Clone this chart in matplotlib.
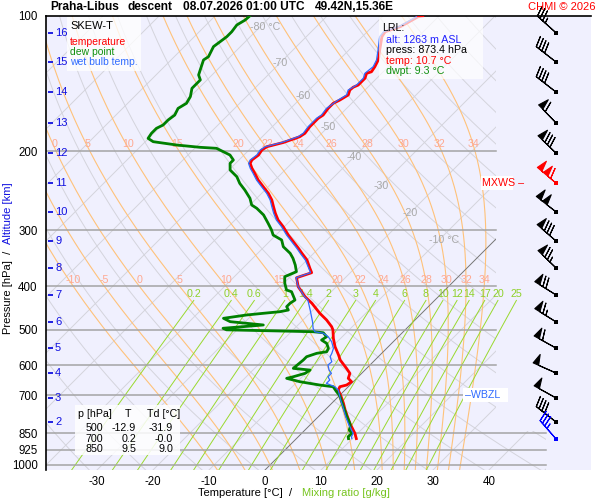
import numpy as np
import matplotlib
matplotlib.use("Agg")
import matplotlib.pyplot as plt
import matplotlib.transforms as mtransforms
from matplotlib.patches import Rectangle, Polygon

plt.rcParams['font.family'] = ['Liberation Sans', 'DejaVu Sans']
plt.rcParams['font.size'] = 8
plt.rcParams['axes.unicode_minus'] = False

# ------------------------------------------------------------------ data
title_parts = ["Praha-Libus", "descent", "08.07.2026 01:00 UTC", "49.42N,15.36E"]
title_x = [50, 128, 183, 315]

pressure_ticks = [100, 200, 300, 400, 500, 600, 700, 850, 925, 1000]
temp_ticks = [-30, -20, -10, 0, 10, 20, 30, 40]

# temperature profile (hPa, degC)
temp_p = [873.4, 850, 810.4, 787.1, 754.3, 728.8, 710.4, 700, 680.8, 669.4,
          663.6, 652.5, 641.2, 625.0, 609.2, 583.8, 568.9, 545.3, 522.3, 500,
          491.9, 475.3, 459.3, 436.3, 421.8, 400.8, 382.7, 373.0, 364.7, 349.5,
          337.7, 329.2, 318.2, 307.5, 294.6, 284.7, 275.0, 265.9, 256.9, 248.3,
          240.0, 231.9, 224.1, 218.4, 212.9, 209.3, 204.0, 198.8, 195.5, 191.3,
          185.7, 182.5, 176.4, 169.0, 166.2, 160.6, 156.5, 153.9, 149.9, 146.2,
          144.1, 142.5, 137.6, 134.2, 133.1, 129.7, 125.3, 119.1, 111.2, 108.4,
          105.6, 103.8, 100.4, 100]
temp_T = [10.7, 9.5, 7.0, 5.6, 3.6, 2.1, 0.9, 0.2, -1.2, -1.5,
          -0.6, -0.3, -1.5, -2.1, -3.6, -6.2, -7.4, -9.5, -11.3, -12.9,
          -13.7, -15.8, -18.2, -21.4, -23.8, -26.8, -28.7, -26.9, -28.0, -30.0,
          -32.1, -33.6, -35.7, -37.8, -40.2, -42.3, -44.0, -45.5, -47.0, -48.8,
          -50.9, -53.0, -54.8, -56.2, -57.4, -57.7, -57.4, -57.7, -57.4, -55.2,
          -53.3, -53.0, -53.3, -53.3, -53.0, -53.3, -53.3, -52.7, -52.1, -52.7,
          -52.6, -52.1, -52.1, -52.7, -52.1, -52.4, -53.0, -54.5, -56.5, -56.8,
          -55.0, -54.5, -53.6, -52.9]

# dew point profile
dew_p = [873.4, 864.9, 850, 835.7, 821.7, 807.5, 780.7, 741.6, 710.4, 700,
         686.7, 669.4, 663.6, 652.5, 641.2, 636.0, 625.0, 614.6, 609.2, 583.8,
         573.9, 564.0, 559.4, 549.8, 535.9, 526.9, 518.0, 507.5, 504.9, 503.0,
         500, 496.0, 491.9, 487.7, 483.5, 479.5, 471.3, 463.4, 459.4, 455.6,
         451.7, 444.0, 436.3, 429.1, 411.2, 407.6, 393.9, 380.7, 371.1, 358.6,
         346.5, 337.7, 326.5, 315.4, 307.5, 299.6, 289.5, 277.4, 268.1, 263.6,
         254.7, 244.1, 235.9, 228.0, 220.3, 212.9, 209.3, 204.0, 197.1, 196.1,
         193.8, 190.5, 187.3, 182.5, 177.9, 174.9, 170.5, 166.2, 160.6, 156.5,
         151.2, 144.9, 142.5, 138.8, 135.3, 131.9, 125.3, 123.2, 117.0, 114.1,
         111.2, 108.4, 104.7, 102.1, 100]
dew_T = [9.3, 8.9, 9.0, 7.9, 7.5, 6.8, 5.1, 2.7, 0.7, 0.0,
         -1.2, -2.7, -5.4, -9.5, -12.5, -11.6, -10.1, -9.8, -13.1, -12.8,
         -12.8, -11.6, -10.1, -10.4, -11.6, -13.1, -12.8, -14.1, -16.1, -22.1,
         -31.9, -32.8, -29.5, -26.2, -29.5, -32.7, -34.5, -31.0, -28.3, -25.6,
         -24.4, -25.3, -25.3, -25.0, -27.1, -28.3, -29.8, -31.0, -29.8, -31.2,
         -32.8, -34.2, -36.6, -38.1, -40.5, -41.7, -43.5, -45.8, -48.2, -49.7,
         -51.2, -53.6, -55.7, -57.4, -59.8, -61.0, -61.0, -62.5, -66.1, -69.2,
         -73.8, -78.6, -80.1, -80.4, -80.4, -79.8, -79.8, -79.5, -80.1, -79.5,
         -80.0, -81.2, -81.2, -81.2, -82.4, -83.0, -84.2, -83.9, -84.8, -84.5,
         -84.2, -84.2, -84.5, -83.9, -83.8]

# wet bulb temperature profile
wb_p = [873.4, 864.9, 850, 810.4, 780.7, 741.6, 716.6, 700, 680.8, 669.4,
        657.9, 646.8, 636.0, 625.0, 614.6, 598.9, 588.9, 573.9, 564.0, 549.8,
        531.5, 518.0, 509.0, 504.9, 496.2, 479.5, 451.7, 429.1, 421.8, 400.8,
        382.7, 373.0, 364.7, 349.5, 337.7, 329.2, 318.2, 307.5, 294.6, 284.7,
        275.0, 265.9, 256.9, 248.3, 240.0, 231.9, 224.1, 218.4, 212.9, 209.3,
        204.0, 198.8, 195.5, 191.3, 185.7, 182.5, 176.4, 169.0, 166.2, 160.6,
        153.9, 149.9, 146.2, 142.5, 137.6, 134.2, 129.7, 125.3, 119.1, 111.2,
        108.4, 105.6, 103.8, 100.4]
wb_T = [9.9, 9.5, 9.2, 6.7, 4.9, 2.6, 1.0, 0.0, -1.2, -2.4,
        -4.5, -4.5, -5.4, -5.4, -6.4, -7.5, -7.4, -8.6, -8.9, -9.5,
        -11.0, -12.5, -14.0, -15.8, -16.7, -18.0, -20.5, -22.7, -23.9, -26.8,
        -28.8, -27.1, -28.2, -30.3, -32.4, -33.9, -36.0, -38.1, -40.5, -42.6,
        -44.3, -45.8, -47.3, -49.1, -51.2, -53.3, -55.1, -56.5, -57.7, -58.0,
        -57.7, -58.0, -57.7, -55.5, -53.6, -53.3, -53.6, -53.6, -53.3, -53.6,
        -53.0, -52.4, -53.0, -52.4, -52.4, -53.0, -52.7, -53.3, -54.8, -56.9,
        -57.1, -55.3, -54.8, -53.9]

# altitude scale (km -> hPa)
alt_km = [2, 3, 4, 5, 6, 7, 8, 9, 10, 11, 12, 13, 14, 15, 16]
alt_p = [802, 709, 624, 549, 480, 418, 364, 317, 273, 235.5, 202, 173, 147.7, 126.6, 109]

# winds at the altitude levels + lowest reported level
wind_p = alt_p + [873.4]
wind_dir = [308, 299, 294, 299, 302, 302, 314, 311, 308, 310, 314, 316, 308, 308, 312, 319]
wind_spd = [40, 50, 50, 60, 65, 70, 75, 80, 100, 110, 80, 60, 40, 40, 35, 35]
wind_col = ['black'] * 9 + ['red'] + ['black'] * 5 + ['blue']

# thermodynamic reference lines
mix_ratios = [0.2, 0.4, 0.6, 1, 1.4, 2, 3, 4, 6, 8, 10, 12, 14, 17, 20, 25]
mix_labels = ['0.2', '0.4', '0.6', '1', '1.4', '2', '3', '4', '6', '8', '10', '12', '14', '17', '20', '25']
moist_thw = [-10, -5, 0, 5, 10, 15, 20, 22, 24, 26, 28, 30, 32, 34]
moist_label_200 = [0, 5, 10, 15, 20, 22, 24, 26, 28, 30, 32, 34]
moist_label_400 = [-10, -5, 0, 5, 10, 15, 20, 22, 24, 26, 28, 30, 32, 34]
dry_theta = list(range(220, 480, 10))
isotherms = list(range(-160, 60, 10))
iso_label_T = [-80, -70, -60, -50, -40, -30, -20, -10]
iso_label_p = [105.8, 127.2, 150.8, 176.6, 206, 239, 275, 315]

lrl_lines = ["alt: 1263 m ASL", "press: 873.4 hPa", "temp: 10.7 °C", "dwpt: 9.3 °C"]
lrl_colors = ['#2020ff', 'black', 'red', '#109010']

table_p = ['500', '700', '850']
table_T = ['-12.9', '0.2', '9.5']
table_Td = ['-31.9', '-0.0', '9.0']

wbzl_p = 700
mxws_p = 235.5

# ------------------------------------------------------------------ figure
W, H = 600, 500
fig = plt.figure(figsize=(6, 5), dpi=100)
fig.patch.set_facecolor('white')

AX_L, AX_R, AX_T, AX_B = 46, 591, 16, 470
axw, axh = AX_R - AX_L, AX_B - AX_T
ax = fig.add_axes([AX_L / W, 1 - AX_B / H, axw / W, axh / H])
ax.set_facecolor('#f0f0fe')
ax.set_yscale('log')
ax.set_ylim(1026, 100)
T0_PX, DEG_PX = 265, 5.6
ax.set_xlim((AX_L - T0_PX) / DEG_PX, (AX_R - T0_PX) / DEG_PX)

skew = mtransforms.Affine2D(np.array([[1.0, axh / axw, 0.0], [0.0, 1.0, 0.0], [0.0, 0.0, 1.0]]))
tskew = ax.transData + ax.transAxes.inverted() + skew + ax.transAxes
blend = mtransforms.blended_transform_factory(ax.transAxes, ax.transData)


def ax_x(px):
    return (px - AX_L) / axw


def ax_y(py):
    return (AX_B - py) / axh


clip = Polygon([(0, 0), (ax_x(546), 0), (ax_x(546), ax_y(431)), (ax_x(496), ax_y(431)),
                (ax_x(496), 1), (0, 1)], closed=True, transform=ax.transAxes,
               facecolor='none', edgecolor='none')

pp = np.logspace(np.log10(1060), 2, 300)

# isotherms
for t in isotherms:
    ln, = ax.plot([t, t], [1060, 100], transform=tskew, color='#d4d4dc', lw=0.7, zorder=1)
    ln.set_clip_path(clip)
# dry adiabats
for th in dry_theta:
    tt = th * (pp / 1000.0) ** 0.2857 - 273.15
    ln, = ax.plot(tt, pp, transform=tskew, color='#d4d4dc', lw=0.7, zorder=1)
    ln.set_clip_path(clip)


def es(tc):
    return 6.112 * np.exp(17.67 * tc / (tc + 243.5))


def dTdp(T, p):
    e = es(T - 273.15)
    rs = 0.622 * e / (p - e)
    return (287.04 * T + 2.501e6 * rs) / (p * (1005.7 + 2.501e6 ** 2 * rs * 0.622 / (287.04 * T * T)))


def moist(thw):
    res = {}
    for ps in (np.arange(1000, 99, -5.0), np.arange(1000, 1066, 5.0)):
        T = thw + 273.15
        out = [T]
        for i in range(len(ps) - 1):
            p = ps[i]
            h = ps[i + 1] - p
            k1 = dTdp(T, p)
            k2 = dTdp(T + h / 2 * k1, p + h / 2)
            k3 = dTdp(T + h / 2 * k2, p + h / 2)
            k4 = dTdp(T + h * k3, p + h)
            T = T + h / 6 * (k1 + 2 * k2 + 2 * k3 + k4)
            out.append(T)
        res[ps[-1] > 1000] = (ps, np.array(out) - 273.15)
    pu, tu = res[False]
    pd, td = res[True]
    return np.concatenate([pd[::-1], pu[1:]]), np.concatenate([td[::-1], tu[1:]])


lab_off = mtransforms.offset_copy(tskew, fig=fig, y=6.5, units='dots')
lab_off200 = mtransforms.offset_copy(tskew, fig=fig, x=-2, y=7, units='dots')
for thw in moist_thw:
    mp, mt = moist(thw)
    ln, = ax.plot(mt, mp, transform=tskew, color='#ffc27a', lw=0.8, zorder=2)
    ln.set_clip_path(clip)
    for lev, labs, tr in ((200, moist_label_200, lab_off200), (400, moist_label_400, lab_off)):
        if thw in labs:
            tl = np.interp(np.log(lev), np.log(mp[::-1]), mt[::-1])
            ax.text(tl, lev, str(thw), transform=tr, color='#ffa890', fontsize=7.7,
                    ha='center', va='center', zorder=3)

# 0 degC isotherm highlighted
ln, = ax.plot([0, 0], [1060, 100], transform=tskew, color='#707070', lw=0.6, zorder=2)
ln.set_clip_path(clip)

# mixing ratio lines
pm = np.logspace(np.log10(1060), np.log10(430), 60)
for w, lab in zip(mix_ratios, mix_labels):
    e = w * pm / (622.0 + w)
    a = np.log(e / 6.112)
    td = 243.5 * a / (17.67 - a)
    ax.plot(td, pm, transform=tskew, color='#99d92e', lw=0.7, zorder=2)
    ax.text(td[-1], 430, lab, transform=lab_off, color='#8fd12a', fontsize=7.7,
            ha='center', va='center', zorder=3)

# isotherm labels
for t, p in zip(iso_label_T, iso_label_p):
    s = str(t)
    if t in (-80, -10):
        s = s + ' °C'
        tr = mtransforms.offset_copy(tskew, fig=fig, x=-10, units='dots')
        ax.text(t, p, s, transform=tr, color='#a8a8a8', fontsize=7.7, ha='left', va='center', zorder=3)
    else:
        ax.text(t, p, s, transform=tskew, color='#a8a8a8', fontsize=7.7, ha='center', va='center', zorder=3)

# isobars
for p in pressure_ticks[1:]:
    xmax = ax_x(546) if p > 800 else ax_x(496)
    ax.plot([0, xmax], [p, p], transform=blend, color='#a4a4a4', lw=1.1, zorder=2)

# profiles
ax.plot(temp_T, temp_p, transform=tskew, color='#ff0000', lw=2.0, zorder=5, solid_joinstyle='round')
ax.plot(dew_T, dew_p, transform=tskew, color='#008000', lw=2.0, zorder=5, solid_joinstyle='round')
ax.plot(wb_T, wb_p, transform=tskew, color='#2f6bff', lw=0.9, zorder=6)

# altitude scale
ax.hlines(alt_p, ax_x(48), ax_x(53), transform=blend, colors='#1010e0', lw=1.3, zorder=6)
for k, p in zip(alt_km, alt_p):
    ax.text(ax_x(55), p, str(k), transform=blend, color='#1010e0', fontsize=8,
            ha='left', va='center', zorder=6)

# wind barbs
wd = np.deg2rad(np.array(wind_dir, dtype=float))
spd = np.array(wind_spd, dtype=float)
wu = -spd * np.sin(wd)
wv = -spd * np.cos(wd)
wpa = np.array(wind_p, dtype=float)
xb = ax_x(556)
for col in ('black', 'red', 'blue'):
    m = np.array([c == col for c in wind_col])
    ax.barbs(np.full(m.sum(), xb), wpa[m], wu[m], wv[m], transform=blend, length=6.0,
             color=col, linewidth=0.8, clip_on=False, zorder=7,
             sizes=dict(spacing=0.14, height=0.42, width=0.24))
    ax.scatter(np.full(m.sum(), xb), wpa[m], marker='s', s=7, color=col, transform=blend,
               zorder=8, clip_on=False, linewidths=0)

# axes cosmetics
for s in ('right', 'bottom'):
    ax.spines[s].set_visible(False)
for s in ('left', 'top'):
    ax.spines[s].set_linewidth(1.2)
    ax.spines[s].set_color('black')
ax.set_yticks(pressure_ticks)
ax.set_yticklabels([str(p) for p in pressure_ticks])
ax.minorticks_off()
ax.set_xticks(temp_ticks)
ax.set_xticklabels([str(t) for t in temp_ticks])
ax.tick_params(axis='y', length=0, pad=6, labelsize=8.3)
ax.tick_params(axis='x', length=0, pad=4, labelsize=8.3)


def ftext(x, y, s, **kw):
    kw.setdefault('zorder', 12)
    return fig.text(x / W, 1 - y / H, s, **kw)


def fbox(x0, y0, x1, y1, alpha=0.78):
    fig.add_artist(Rectangle((x0 / W, 1 - y1 / H), (x1 - x0) / W, (y1 - y0) / H,
                             transform=fig.transFigure, facecolor='white', edgecolor='none',
                             alpha=alpha, zorder=11))


# title
for s, x in zip(title_parts, title_x):
    ftext(x, 7, s, fontsize=8.6, fontweight='bold', ha='left', va='center')
ftext(595, 7, "CHMI © 2026", fontsize=8, color='red', ha='right', va='center')

# axis labels
ftext(292, 493, "Temperature [°C]  /", fontsize=8, ha='right', va='center')
ftext(302, 493, "Mixing ratio [g/kg]", fontsize=8, ha='left', va='center', color='#77c41f')
ftext(8, 251, "Pressure [hPa]  /", fontsize=8, rotation=90, ha='center', va='top')
ftext(8, 244, "Altitude [km]", fontsize=8, rotation=90, ha='center', va='bottom', color='#1010e0')

# legend box
fbox(67, 17, 141, 71)
ftext(70, 26, "SKEW-T", fontsize=8, ha='left', va='center')
ftext(70, 42, "temperature", fontsize=7.5, ha='left', va='center', color='red')
ftext(70, 52, "dew point", fontsize=7.5, ha='left', va='center', color='#109010')
ftext(70, 62, "wet bulb temp.", fontsize=7.5, ha='left', va='center', color='#2f6bff')

# LRL box
fbox(379, 17, 483, 79, alpha=0.7)
ftext(382, 28, "LRL:", fontsize=7.7, ha='left', va='center')
for i, (s, c) in enumerate(zip(lrl_lines, lrl_colors)):
    ftext(386, 40 + 10.4 * i, s, fontsize=7.7, ha='left', va='center', color=c)

# table box
fbox(75, 405, 180, 455, alpha=0.85)
ftext(78, 414, "p [hPa]", fontsize=7.7, ha='left', va='center')
ftext(128, 414, "T", fontsize=7.7, ha='center', va='center')
ftext(147, 414, "Td [°C]", fontsize=7.7, ha='left', va='center')
for i in range(len(table_p)):
    y = 428 + 10.5 * i
    ftext(103, y, table_p[i], fontsize=7.7, ha='right', va='center')
    ftext(136, y, table_T[i], fontsize=7.7, ha='right', va='center')
    ftext(173, y, table_Td[i], fontsize=7.7, ha='right', va='center')

# WBZL / MXWS markers
wb_y = AX_B - (np.log10(1026) - np.log10(wbzl_p)) / (np.log10(1026) - 2) * axh
mx_y = AX_B - (np.log10(1026) - np.log10(mxws_p)) / (np.log10(1026) - 2) * axh
fbox(463, wb_y - 7, 508, wb_y + 7, alpha=1.0)
ftext(465, wb_y, "\u2013WBZL", fontsize=7.7, ha='left', va='center', color='#2f6bff')
fbox(481, mx_y - 7, 513, mx_y + 7, alpha=1.0)
ftext(482, mx_y, "MXWS \u2013", fontsize=7.7, ha='left', va='center', color='red')

fig.savefig('out.png', dpi=100)
